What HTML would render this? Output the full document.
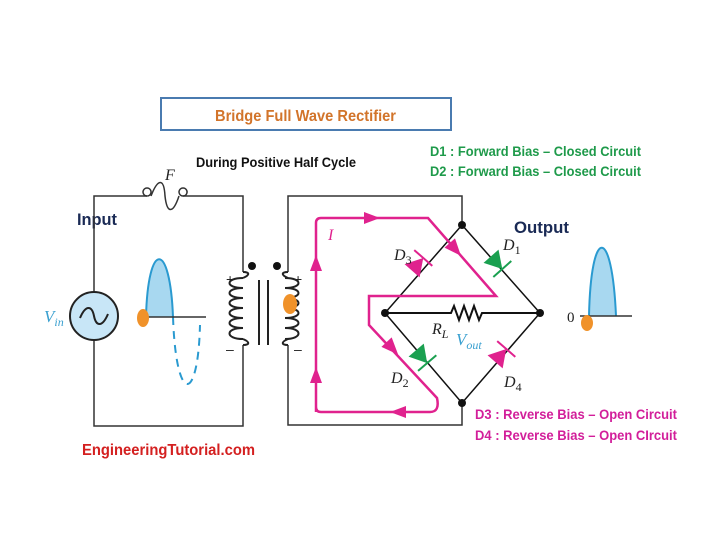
<!DOCTYPE html>
<html><head><style>
body{margin:0;background:#fff;}
svg{display:block;font-family:"Liberation Sans",sans-serif;}
</style></head><body>
<svg width="720" height="540" viewBox="0 0 720 540">
<rect x="161" y="98" width="290" height="32" fill="#fff" stroke="#4a7bb0" stroke-width="2"/>
<text x="215" y="121" textLength="181" lengthAdjust="spacingAndGlyphs" font-size="16" font-weight="bold" fill="#d2742a">Bridge Full Wave Rectifier</text>
<text x="196" y="167" textLength="160" lengthAdjust="spacingAndGlyphs" font-size="14" font-weight="bold" fill="#111">During Positive Half Cycle</text>
<text x="430" y="156" textLength="211" lengthAdjust="spacingAndGlyphs" font-size="14" font-weight="bold" fill="#1e9a4a">D1 : Forward Bias – Closed Circuit</text>
<text x="430" y="176" textLength="211" lengthAdjust="spacingAndGlyphs" font-size="14" font-weight="bold" fill="#1e9a4a">D2 : Forward Bias – Closed Circuit</text>
<text x="475" y="419" textLength="202" lengthAdjust="spacingAndGlyphs" font-size="14" font-weight="bold" fill="#d21e9a">D3 : Reverse  Bias – Open Circuit</text>
<text x="475" y="440" textLength="202" lengthAdjust="spacingAndGlyphs" font-size="14" font-weight="bold" fill="#d21e9a">D4 : Reverse  Bias – Open CIrcuit</text>
<text x="77" y="225" textLength="40" lengthAdjust="spacingAndGlyphs" font-size="17" font-weight="bold" fill="#1a2a55">Input</text>
<text x="514" y="233" textLength="55" lengthAdjust="spacingAndGlyphs" font-size="17" font-weight="bold" fill="#1a2a55">Output</text>
<text x="82" y="455" textLength="173" lengthAdjust="spacingAndGlyphs" font-size="16" font-weight="bold" fill="#d42020">EngineeringTutorial.com</text>

<g fill="none" stroke="#333" stroke-width="1.5">
<path d="M94 292 V196 H147 M183 196 H243 V272 M243 345 V426 H94 V340"/>
<path d="M147 196 a4 4 0 1 1 0.1 0 M183 196 a4 4 0 1 1 0.1 0"/>
<path d="M151 196 C158 178 164 178 165 196 C167 214 173 214 179 196"/>
<path d="M288 272 V196 H462 V225 M288 345 V425 H462 V403"/>
</g>
<text x="165" y="180" font-size="16" font-style="italic" font-family="Liberation Serif" fill="#222">F</text>
<circle cx="94" cy="316" r="24" fill="#c8e6f7" stroke="#222" stroke-width="2"/>
<path d="M80 318 C86 304 92 306 94 316 C96 326 102 328 108 314" fill="none" stroke="#222" stroke-width="2"/>
<text x="44" y="322" font-size="17" font-style="italic" font-family="Liberation Serif" fill="#3aa0d0">V<tspan font-size="12" dy="4">in</tspan></text>
<path d="M146 317 C148 240 170 240 173 317 Z" fill="#a8d8f0"/>
<path d="M146 317 C148 240 170 240 173 317" fill="none" stroke="#2a9ad0" stroke-width="2"/>
<path d="M173 317 C176 405 198 405 200 325" fill="none" stroke="#2a9ad0" stroke-width="2" stroke-dasharray="8,6"/>
<line x1="140" y1="317" x2="206" y2="317" stroke="#333" stroke-width="1.5"/>
<ellipse cx="143" cy="318" rx="6" ry="9" fill="#f0922a"/>
<g fill="none" stroke="#222" stroke-width="2">
<path d="M243 272 C250 272 250 275 243 278 M243 345 C250 345 250 342 243 339"/>
<path d="M243 278 c-18 0 -18 10 0 10 c-18 0 -18 10 0 10 c-18 0 -18 10 0 10 c-18 0 -18 10 0 10 c-18 0 -18 10 0 10 c-18 0 -18 11 0 11"/>
<path d="M288 272 C281 272 281 275 288 278 M288 345 C281 345 281 342 288 339"/>
<path d="M285 278 c18 0 18 10 0 10 c18 0 18 10 0 10 c18 0 18 10 0 10 c18 0 18 10 0 10 c18 0 18 10 0 10 c18 0 18 11 0 11"/>
<line x1="259" y1="280" x2="259" y2="345"/><line x1="268" y1="280" x2="268" y2="345"/>
</g>
<circle cx="252" cy="266" r="4" fill="#111"/><circle cx="277" cy="266" r="4" fill="#111"/>
<text x="226" y="284" font-size="14" fill="#222">+</text><text x="294" y="284" font-size="14" fill="#222">+</text>
<text x="226" y="354" font-size="14" fill="#222">–</text><text x="294" y="354" font-size="14" fill="#222">–</text>
<ellipse cx="290" cy="304" rx="7" ry="10" fill="#f0922a"/>
<g stroke="#111" stroke-width="1.5" fill="none">
<path d="M462 225 L540 313 L462 403 L385 313 Z"/>
<path d="M385 313 H451 l3 -7 l5 14 l5 -14 l5 14 l5 -14 l5 14 l3 -7 H540" stroke-width="2"/>
</g>
<circle cx="462" cy="225" r="4" fill="#111"/><circle cx="540" cy="313" r="4" fill="#111"/>
<circle cx="462" cy="403" r="4" fill="#111"/><circle cx="385" cy="313" r="4" fill="#111"/>
<path d="M316 412 V223 Q316 218 321 218 H428 L496 296 H369 V325 L437 398 Q440 412 430 412 H321 Q316 412 316 407" fill="none" stroke="#e0228e" stroke-width="2.5"/>
<g fill="#e0228e">
<polygon points="316,255 310,271 322,271"/><polygon points="316,367 310,383 322,383"/>
<polygon points="380,218 364,212 364,224"/><polygon points="390,412 406,406 406,418"/>
<g transform="translate(455,249) rotate(48.9)"><polygon points="9,0 -8,-7 -8,7"/></g>
<g transform="translate(392,348) rotate(47)"><polygon points="9,0 -8,-7 -8,7"/></g>
</g>
<g transform="translate(497,263) rotate(48.5)"><polygon points="-9,-10 -9,10 8,0" fill="#1aa050"/><line x1="8" y1="-12" x2="8" y2="12" stroke="#1aa050" stroke-width="2"/></g>
<g transform="translate(422,357) rotate(49.5)"><polygon points="-9,-10 -9,10 8,0" fill="#1aa050"/><line x1="8" y1="-12" x2="8" y2="12" stroke="#1aa050" stroke-width="2"/></g>
<g transform="translate(418,264) rotate(-48.8)"><polygon points="-9,-10 -9,10 8,0" fill="#e0228e"/><line x1="8" y1="-12" x2="8" y2="12" stroke="#e0228e" stroke-width="2"/></g>
<g transform="translate(501,355) rotate(-49)"><polygon points="-9,-10 -9,10 8,0" fill="#e0228e"/><line x1="8" y1="-12" x2="8" y2="12" stroke="#e0228e" stroke-width="2"/></g>
<g font-family="Liberation Serif" font-style="italic" font-size="16" fill="#222">
<text x="394" y="260">D<tspan font-size="12" font-style="normal" dy="4">3</tspan></text>
<text x="503" y="250">D<tspan font-size="12" font-style="normal" dy="4">1</tspan></text>
<text x="391" y="383">D<tspan font-size="12" font-style="normal" dy="4">2</tspan></text>
<text x="504" y="387">D<tspan font-size="12" font-style="normal" dy="4">4</tspan></text>
<text x="432" y="334">R<tspan font-size="12" dy="4">L</tspan></text>
<text x="328" y="240" fill="#e0228e">I</text>
<text x="456" y="345" fill="#3aa0d0" font-size="17">V<tspan font-size="12" dy="4">out</tspan></text>
<text x="567" y="322" font-style="normal" font-size="15">0</text>
</g>
<path d="M589 316 C591 225 612 225 616 316 Z" fill="#a8d8f0"/>
<path d="M589 316 C591 225 612 225 616 316" fill="none" stroke="#2a9ad0" stroke-width="2"/>
<line x1="580" y1="316" x2="632" y2="316" stroke="#333" stroke-width="1.5"/>
<ellipse cx="587" cy="323" rx="6" ry="8" fill="#f0922a"/>
</svg>
</body></html>
